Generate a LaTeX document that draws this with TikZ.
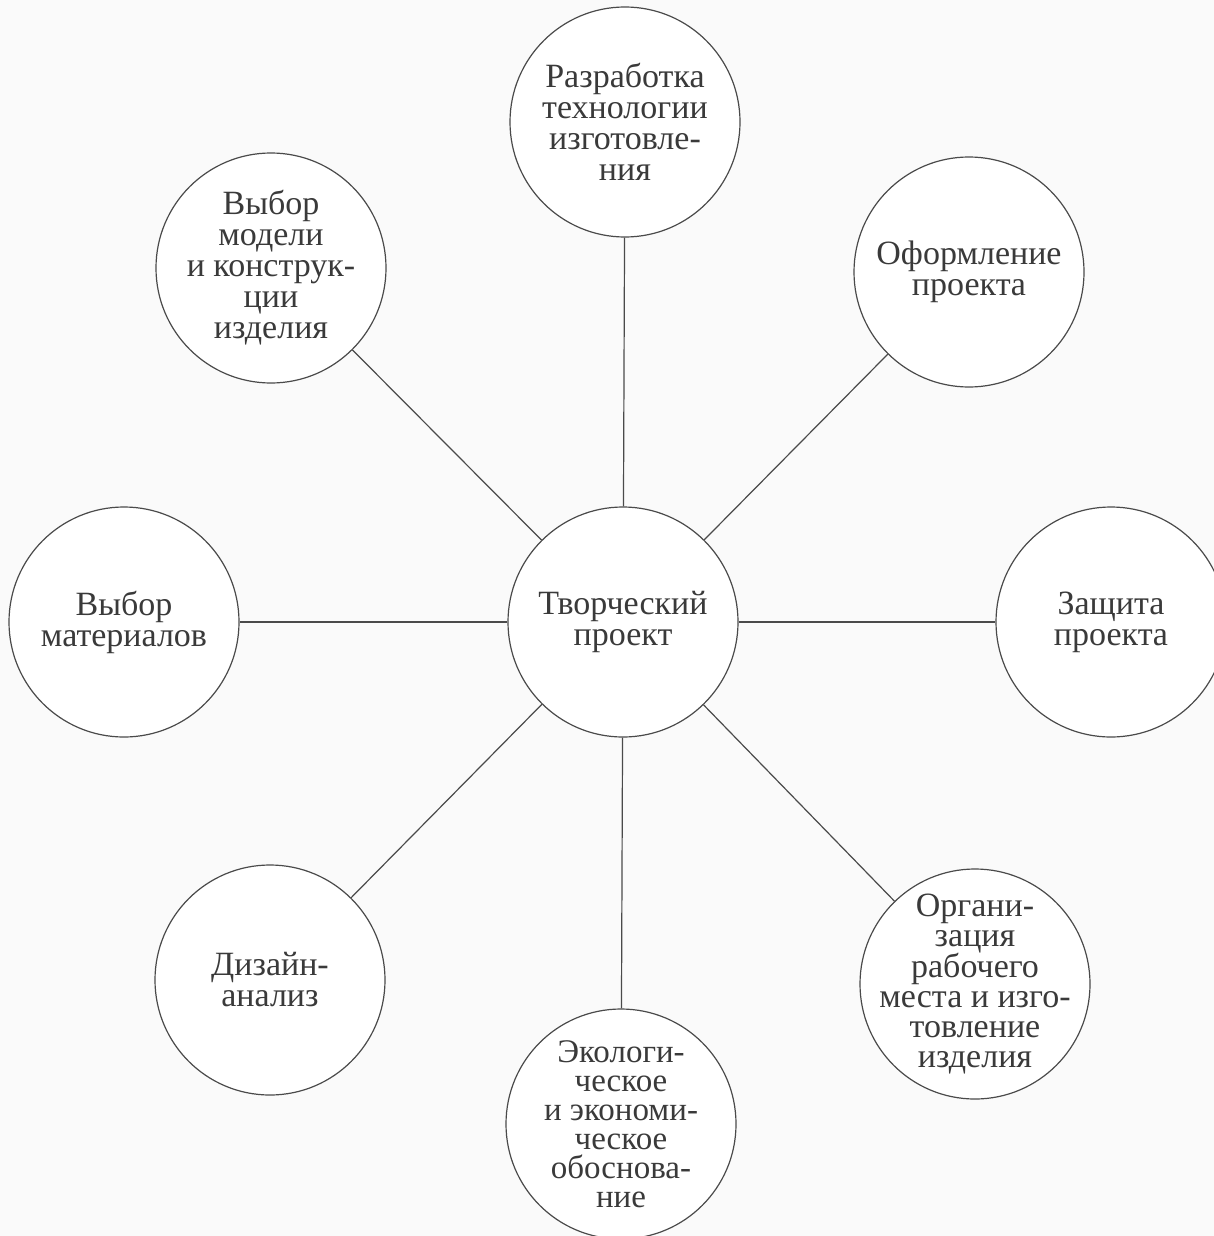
\documentclass[tikz,border=0pt]{standalone}
\usepackage{fontspec}
\setmainfont{Liberation Serif}
\begin{document}
\begin{tikzpicture}[x=1pt,y=-1pt,
  bubble/.style={circle,draw=linegray,line width=1.2pt,fill=white,minimum size=230pt,inner sep=-30pt,align=center,text=textgray,font=\fontsize{34}{31}\selectfont},
  link/.style={draw=linegray,line width=1.2pt}]
\definecolor{linegray}{HTML}{4A4A4A}
\definecolor{textgray}{HTML}{3A3A3A}
\definecolor{paper}{HTML}{FAFAFA}
\fill[paper] (0,0) rectangle (1214,1236);
\useasboundingbox (0,0) rectangle (1214,1236);
\node[bubble] (c)  at (623,622)  {Творческий\\проект};
\node[bubble] (n)  at (625,122)  {Разработка\\технологии\\изготовле-\\ния};
\node[bubble] (nw) at (271,268)  {Выбор\\модели\\и конструк-\\ции\\изделия};
\node[bubble] (ne) at (969,272)  {Оформление\\проекта};
\node[bubble] (w)  at (124,622)  {Выбор\\материалов};
\node[bubble] (e)  at (1111,622) {Защита\\проекта};
\node[bubble] (sw) at (270,980)  {Дизайн-\\анализ};
\node[bubble,font=\fontsize{34}{30}\selectfont] (se) at (975,984)  {Органи-\\зация\\рабочего\\места и изго-\\товление\\изделия};
\node[bubble,font=\fontsize{33}{29}\selectfont] (s)  at (621,1124) {Экологи-\\ческое\\и экономи-\\ческое\\обоснова-\\ние};
\foreach \t in {n,nw,ne,w,e,sw,se,s} \draw[link] (c) -- (\t);
\end{tikzpicture}
\end{document}
